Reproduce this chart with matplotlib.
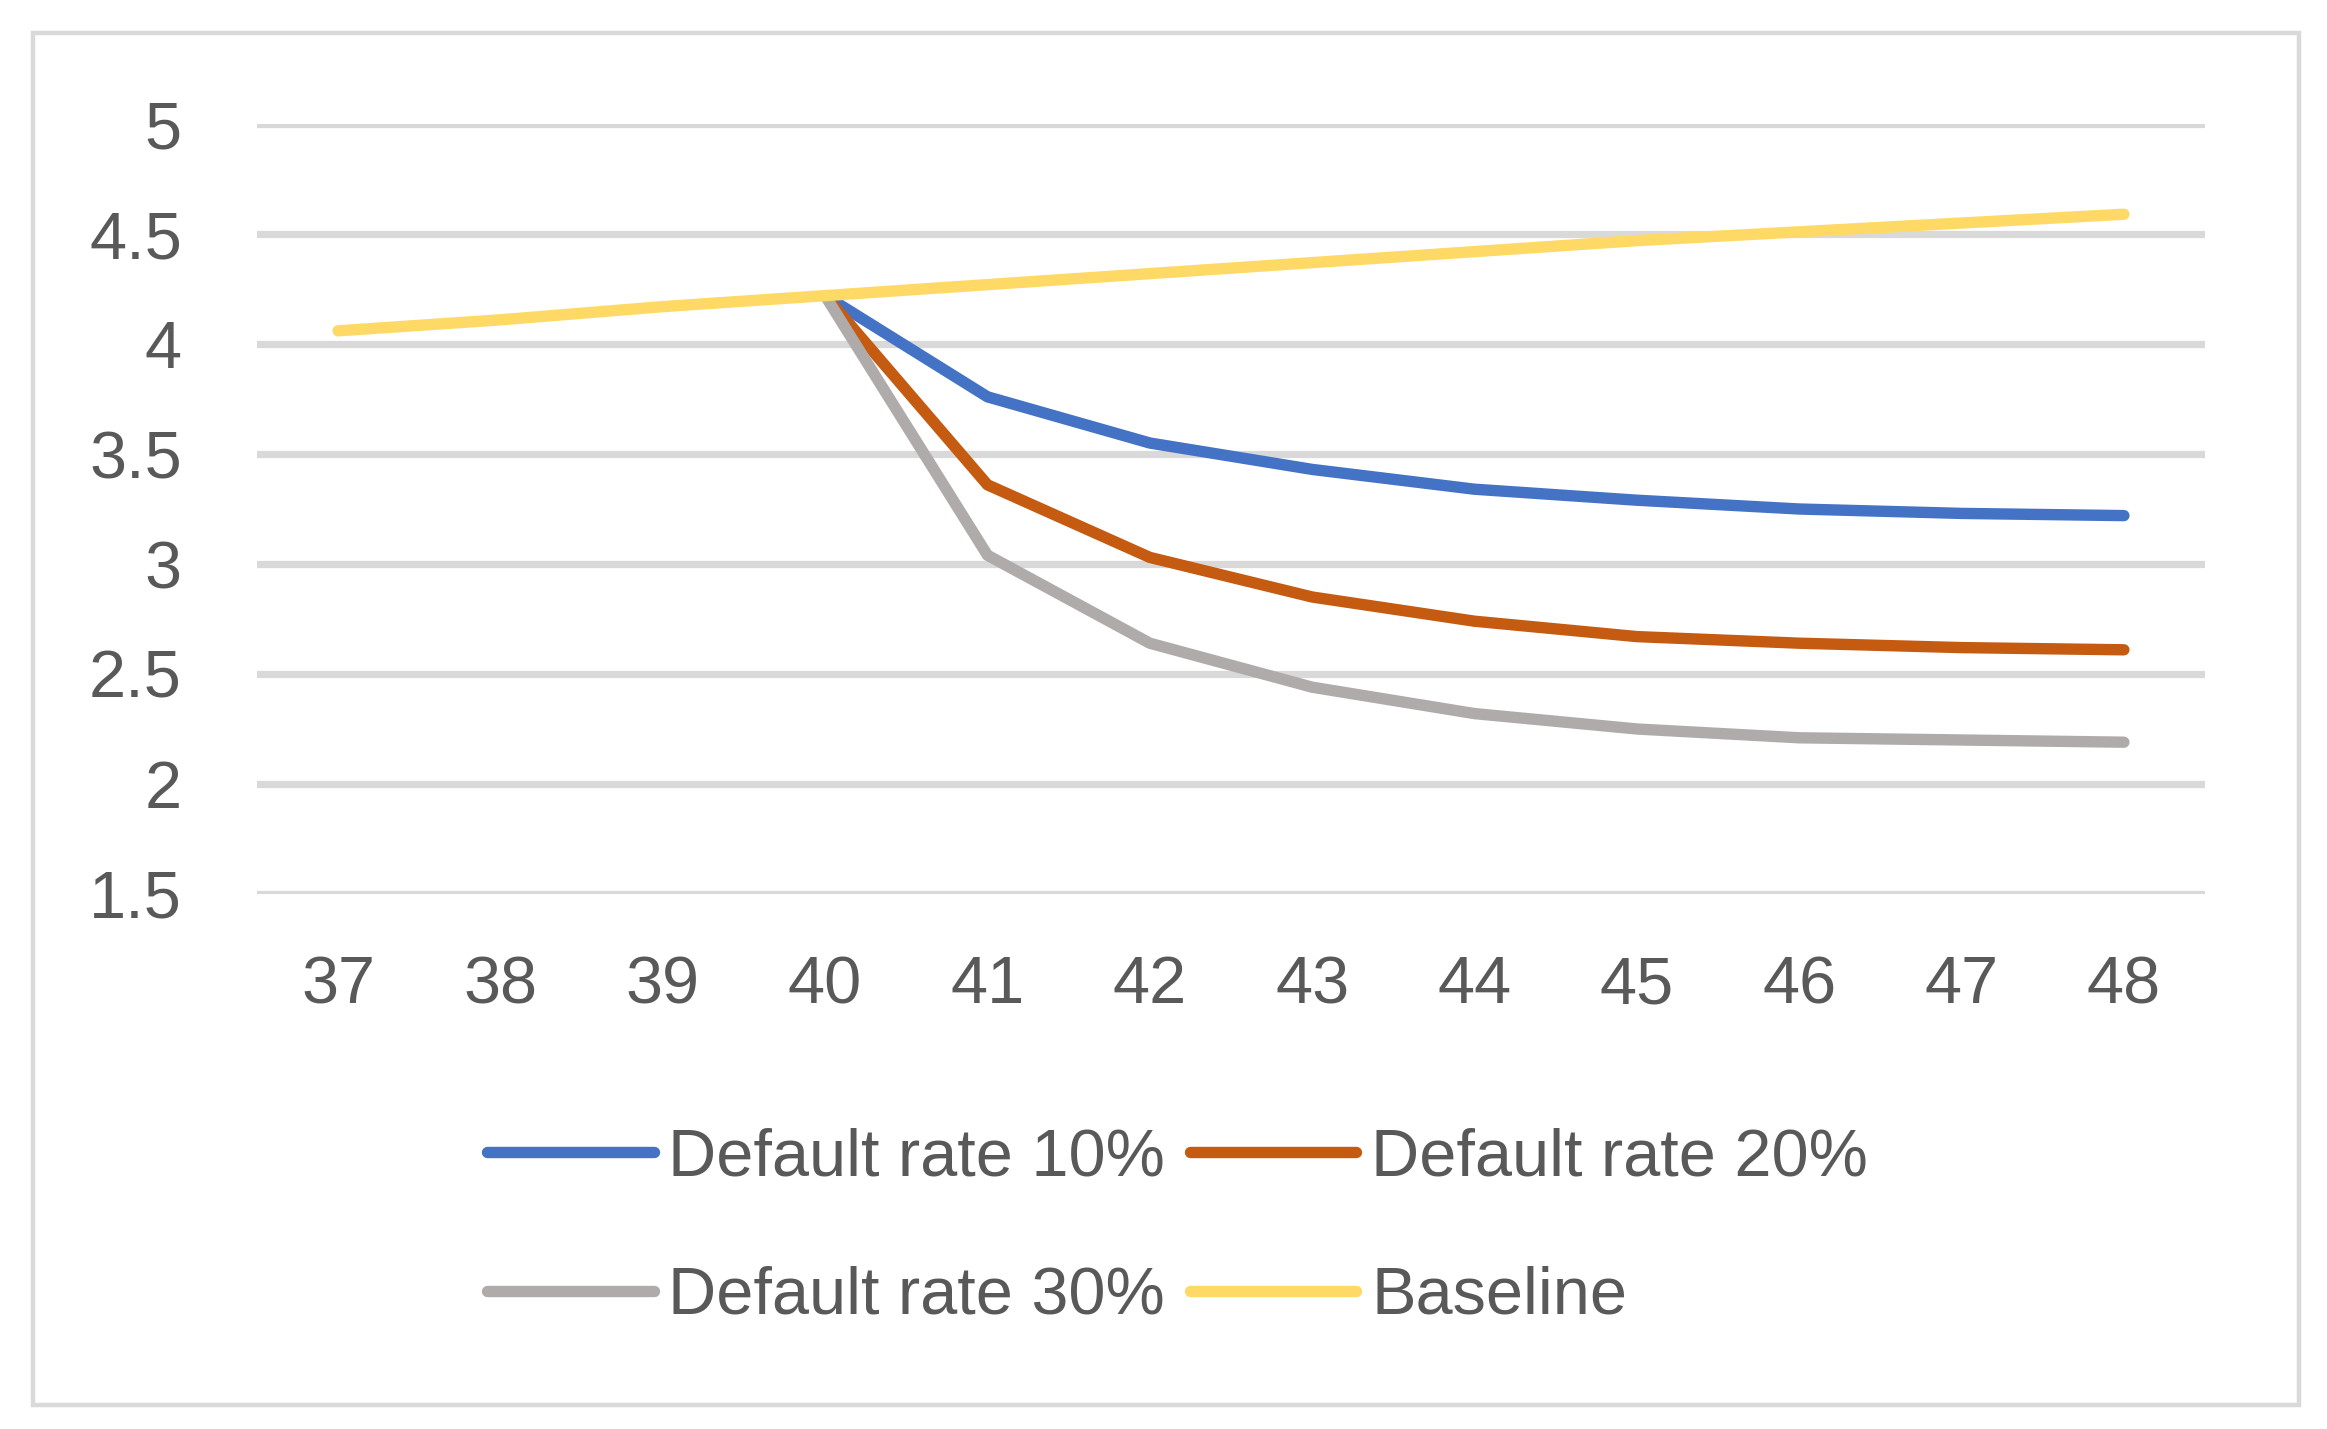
import numpy as np
import matplotlib
matplotlib.use("Agg")
import matplotlib.pyplot as plt
from matplotlib.patches import Rectangle

plt.rcParams['font.family'] = ['Liberation Sans', 'DejaVu Sans']

years = [37, 38, 39, 40, 41, 42, 43, 44, 45, 46, 47, 48]
nan = np.nan
rate10 = [nan, nan, nan, 4.22, 3.76, 3.55, 3.43, 3.34, 3.29, 3.25, 3.23, 3.22]
rate20 = [nan, nan, nan, 4.22, 3.36, 3.03, 2.85, 2.74, 2.67, 2.64, 2.62, 2.61]
rate30 = [nan, nan, nan, 4.22, 3.04, 2.64, 2.44, 2.32, 2.25, 2.21, 2.20, 2.19]
baseline = [4.06, 4.11, 4.17, 4.22, 4.27, 4.32, 4.37, 4.42, 4.47, 4.51, 4.55, 4.59]

labels = ["Default rate 10%", "Default rate 20%", "Default rate 30%", "Baseline"]
colors = ["#4472C4", "#C55A11", "#AFABAB", "#FFD966"]
yticks = [1.5, 2, 2.5, 3, 3.5, 4, 4.5, 5]

text_col = "#595959"
grid_col = "#D9D9D9"

fig = plt.figure(figsize=(23.27, 14.29), dpi=100)
ax = fig.add_axes([0.1104, 0.3744, 0.8372, 0.5388])

lines = []
for vals, lab, col in zip([rate10, rate20, rate30, baseline], labels, colors):
    ln, = ax.plot(years, vals, color=col, lw=8.2, label=lab,
                  solid_capstyle='round', solid_joinstyle='round')
    lines.append(ln)

ax.set_xlim(36.5, 48.5)
ax.set_ylim(1.5, 5)
ax.set_xticks(years)
ax.set_xticklabels([str(y) for y in years])
ax.set_yticks(yticks)
ax.set_yticklabels([f"{t:g}" for t in yticks])
ax.tick_params(axis='both', length=0, labelsize=48, colors=text_col)
ax.tick_params(axis='y', pad=54)
ax.tick_params(axis='x', pad=44)
ax.yaxis.grid(True, color=grid_col, lw=5.2)
ax.set_axisbelow(True)
for s in ax.spines.values():
    s.set_visible(False)

# legend filled row by row like the original
order = [0, 2, 1, 3]
fig.legend([lines[i] for i in order], [labels[i] for i in order],
           loc='center', bbox_to_anchor=(0.506, 0.141), ncol=2, frameon=False,
           fontsize=48, handlelength=2.5, handletextpad=0.22, columnspacing=0.37,
           labelspacing=1.15, labelcolor=text_col)

# outer chart border
fig.patches.append(Rectangle((0.0142, 0.0168), 0.9738, 0.9602, transform=fig.transFigure,
                             fill=False, edgecolor=grid_col, lw=3.2))

fig.savefig("out.png", dpi=100)
